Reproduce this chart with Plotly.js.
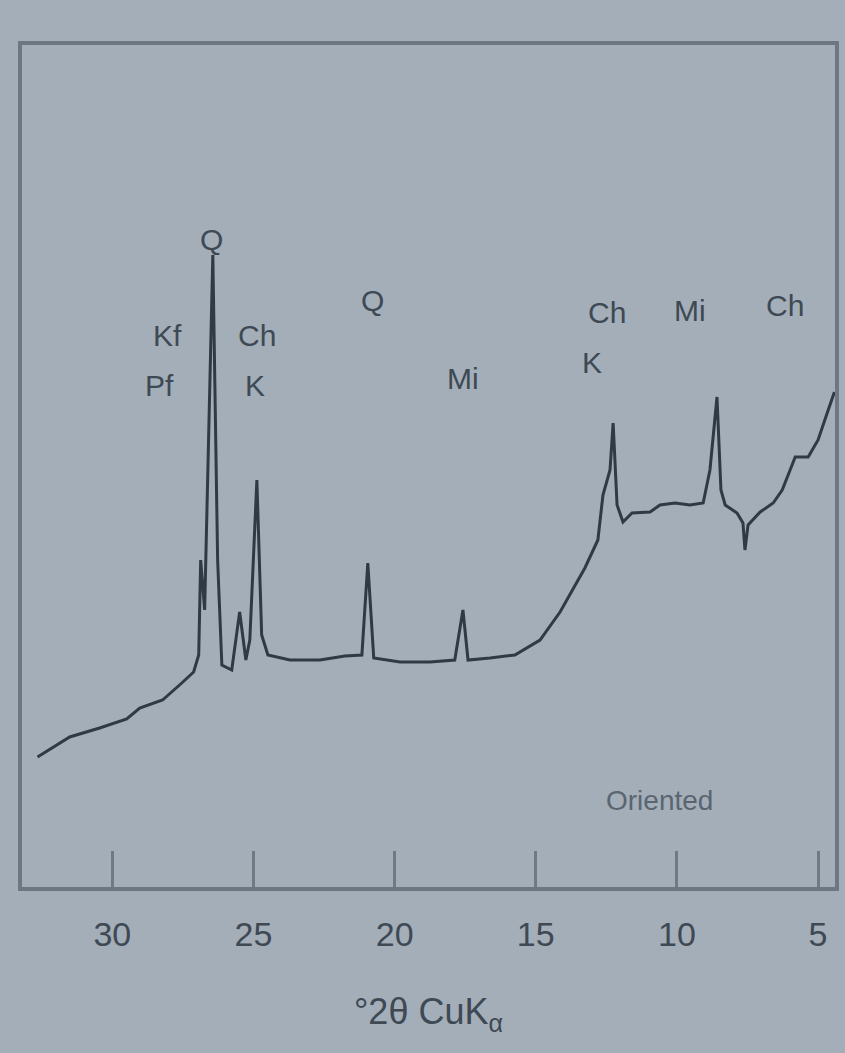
<!DOCTYPE html>
<html>
<head>
<meta charset="utf-8">
<script src="https://cdn.plot.ly/plotly-3.0.1.min.js"></script>
<style>
  html, body { margin: 0; padding: 0; background: #a3aeb8; }
  #chart { width: 845px; height: 1053px; }
</style>
</head>
<body>
<div id="chart"></div>
<script>
// X-ray diffraction pattern, oriented sample
const twoTheta = [32.65, 31.51, 30.45, 29.49, 29.03, 28.22, 27.54, 27.12, 26.94, 26.87,
  26.73, 26.44, 26.27, 26.12, 25.77, 25.49, 25.27, 25.13, 24.88, 24.71,
  24.49, 23.71, 22.65, 21.76, 21.16, 20.95, 20.74, 19.81, 18.75, 17.87,
  17.58, 17.40, 16.62, 15.74, 14.85, 14.14, 13.26, 12.80, 12.62, 12.37,
  12.26, 12.12, 11.91, 11.59, 10.95, 10.60, 10.07, 9.54, 9.07, 8.83,
  8.58, 8.44, 8.29, 7.87, 7.66, 7.59, 7.48, 7.05, 6.59, 6.27,
  5.99, 5.81, 5.35, 5.00, 4.64, 4.42];
const intensity = [130, 150, 159, 168, 179, 187, 204, 215, 232, 327,
  277, 632, 327, 222, 217, 275, 227, 247, 407, 252,
  232, 227, 227, 231, 232, 324, 229, 225, 225, 227,
  277, 227, 229, 232, 247, 275, 319, 347, 392, 417,
  464, 382, 365, 374, 375, 382, 384, 382, 384, 417,
  490, 397, 382, 374, 364, 337, 362, 375, 384, 397,
  417, 430, 430, 447, 477, 495];

const tickValues = [30, 25, 20, 15, 10, 5];
const tickLabels = ["30", "25", "20", "15", "10", "5"];

const peakLabels = ["Q", "Kf", "Pf", "Ch", "K", "Q", "Mi", "Ch", "K", "Mi", "Ch"];
const peakLabelX = [26.50, 28.04, 28.32, 24.88, 24.95, 20.77, 17.58, 12.48, 13.01, 9.53, 6.17];
const peakLabelY = [648, 552, 502, 552, 502, 587, 509, 575, 525, 577, 582];

const sampleLabel = "Oriented";
const sampleLabelX = 10.62;
const sampleLabelY = 87;

const inkColor = "#2f3a45";
const textColor = "#3e4954";
const bg = "#a3aeb8";

const annotations = peakLabels.map((t, i) => ({
  x: peakLabelX[i], y: peakLabelY[i], xref: "x", yref: "y",
  text: t, showarrow: false,
  font: { family: "Liberation Sans, Arial, sans-serif", size: 30, color: textColor }
}));
annotations.push({
  x: sampleLabelX, y: sampleLabelY, xref: "x", yref: "y",
  text: sampleLabel, showarrow: false,
  font: { family: "Liberation Sans, Arial, sans-serif", size: 28, color: "#5a6571" }
});

const trace = {
  x: twoTheta, y: intensity, type: "scatter", mode: "lines",
  line: { color: inkColor, width: 3 },
  hoverinfo: "skip"
};

const layout = {
  width: 845, height: 1053,
  margin: { l: 22, r: 10, t: 45, b: 166 },
  paper_bgcolor: bg, plot_bgcolor: bg,
  showlegend: false,
  xaxis: {
    range: [33.2, 4.4],
    tickmode: "array", tickvals: tickValues, ticktext: tickLabels,
    ticks: "inside", ticklen: 36, tickwidth: 3, tickcolor: "#6f7a85",
    showline: true, mirror: true, linecolor: "#6c7782", linewidth: 4,
    showgrid: false, zeroline: false,
    tickfont: { family: "Liberation Sans, Arial, sans-serif", size: 34, color: textColor },
    ticklabelstandoff: 14,
    title: { text: "°2θ CuK<sub>α</sub>", standoff: 48,
      font: { family: "Liberation Sans, Arial, sans-serif", size: 36, color: textColor } }
  },
  yaxis: {
    range: [0, 842],
    showticklabels: false, ticks: "",
    showline: true, mirror: true, linecolor: "#6c7782", linewidth: 4,
    showgrid: false, zeroline: false
  },
  annotations: annotations
};

Plotly.newPlot("chart", [trace], layout, { staticPlot: true, displayModeBar: false });
</script>
</body>
</html>
